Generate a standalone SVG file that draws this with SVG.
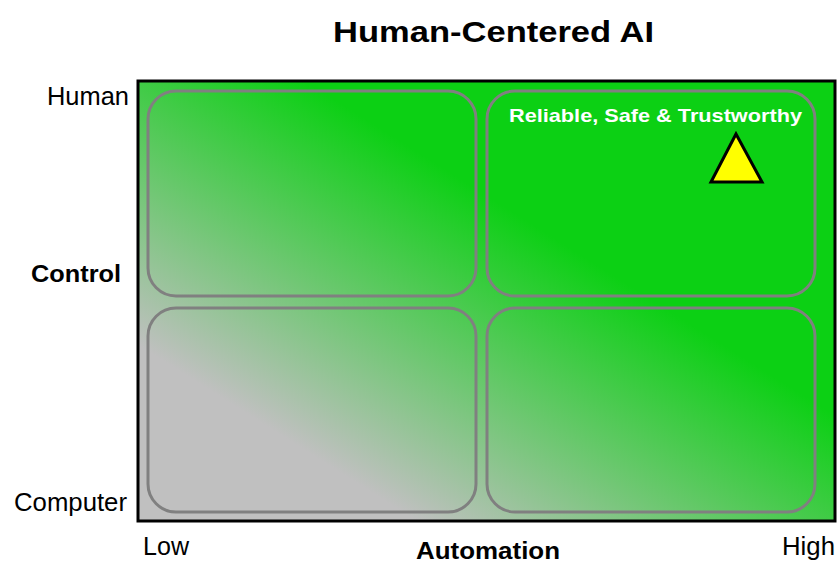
<svg xmlns="http://www.w3.org/2000/svg" width="839" height="563" viewBox="0 0 839 563">
<style>
.lbl{font-family:"Liberation Sans",Arial,sans-serif;font-size:25px;fill:#000}
.b{font-weight:bold}
.quad{fill:none;stroke:#808080;stroke-width:3}
</style>
<defs>
<linearGradient id="bg" x1="0" y1="1" x2="1" y2="0">
<stop offset="0" stop-color="#c0c0c0"/>
<stop offset="0.2" stop-color="#c0c0c0"/>
<stop offset="0.62" stop-color="#0cd014"/>
<stop offset="1" stop-color="#0cd014"/>
</linearGradient>
</defs>
<rect width="839" height="563" fill="#fff"/>
<text class="lbl b" x="333" y="42" style="font-size:30px" textLength="321" lengthAdjust="spacingAndGlyphs">Human-Centered AI</text>
<g id="chart">
<rect x="138" y="81" width="697" height="440" fill="url(#bg)" stroke="#000" stroke-width="3"/>
</g>
<g id="q-tl"><rect class="quad" x="148" y="91" width="328" height="205" rx="28"/></g>
<g id="q-tr"><rect class="quad" x="487" y="91" width="328" height="205" rx="28"/>
<text class="lbl b" x="509" y="122" style="font-size:19px;fill:#fff" textLength="293" lengthAdjust="spacingAndGlyphs">Reliable, Safe &amp; Trustworthy</text>
<polygon points="736,134 711,182 762,182" fill="#ffff00" stroke="#000" stroke-width="3" stroke-linejoin="miter"/>
</g>
<g id="q-bl"><rect class="quad" x="148" y="308" width="328" height="204" rx="28"/></g>
<g id="q-br"><rect class="quad" x="487" y="308" width="328" height="204" rx="28"/></g>
<g id="connectors"></g>
<text class="lbl" x="47" y="105" textLength="82" lengthAdjust="spacingAndGlyphs">Human</text>
<text class="lbl b" x="31" y="282" style="font-size:24px" textLength="90" lengthAdjust="spacingAndGlyphs">Control</text>
<text class="lbl" x="14" y="511" textLength="113" lengthAdjust="spacingAndGlyphs">Computer</text>
<text class="lbl" x="143" y="555" textLength="46" lengthAdjust="spacingAndGlyphs">Low</text>
<text class="lbl b" x="416" y="559" style="font-size:24px" textLength="144" lengthAdjust="spacingAndGlyphs">Automation</text>
<text class="lbl" x="782" y="555" textLength="53" lengthAdjust="spacingAndGlyphs">High</text>
</svg>
